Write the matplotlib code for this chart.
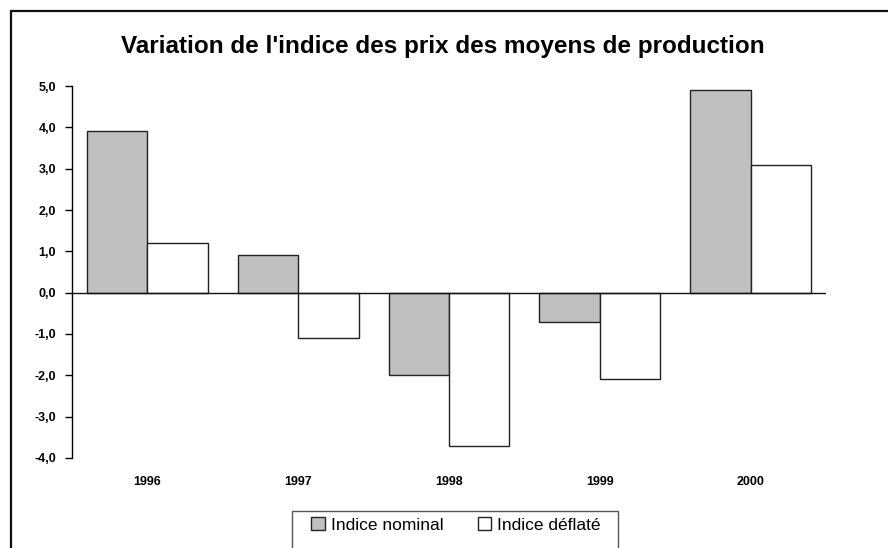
import numpy as np
import matplotlib
matplotlib.use("Agg")
import matplotlib.pyplot as plt
from matplotlib.patches import Patch, Rectangle
from matplotlib.ticker import FuncFormatter

# data
years = ["1996", "1997", "1998", "1999", "2000"]
nominal = [3.9, 0.9, -2.0, -0.7, 4.9]
deflated = [1.2, -1.1, -3.7, -2.1, 3.1]

plt.rcParams["font.family"] = ["Liberation Sans", "DejaVu Sans"]

W, H = 888, 548
fig = plt.figure(figsize=(W / 100, H / 100), dpi=100)

# outer frame (right and bottom edges fall outside the picture)
fig.patches.append(Rectangle((11 / W, -0.1), 1.2, 1 - 11 / H + 0.1,
                             transform=fig.transFigure, fill=False,
                             edgecolor="#111111", linewidth=1.6))

ax = fig.add_axes([72 / W, (H - 458) / H, (826 - 72) / W, (458 - 86) / H])

x = np.arange(len(years))
w = 0.4
ax.bar(x - w / 2, nominal, w, color="#c0c0c0", edgecolor="#222222", linewidth=1)
ax.bar(x + w / 2, deflated, w, color="white", edgecolor="#222222", linewidth=1)

ax.set_xlim(-0.5, len(years) - 0.5)
ax.set_ylim(-4, 5)
ax.set_yticks(np.arange(-4, 6, 1))
ax.yaxis.set_major_formatter(FuncFormatter(lambda v, p: f"{v:.1f}".replace(".", ",")))
ax.axhline(0, color="#111111", linewidth=1)

ax.set_xticks(x)
ax.set_xticklabels(years)
ax.tick_params(axis="x", length=0, pad=13)
ax.tick_params(axis="y", length=5, width=1, pad=6.5, direction="out")
for lbl in ax.get_xticklabels() + ax.get_yticklabels():
    lbl.set_fontsize(9)
    lbl.set_fontweight("bold")

for s in ["top", "right", "bottom"]:
    ax.spines[s].set_visible(False)
ax.spines["left"].set_linewidth(1)

fig.text(443 / W, 1 - 47 / H, "Variation de l'indice des prix des moyens de production",
         ha="center", va="center", fontsize=17.5, fontweight="bold")

# legend box, bottom edge cut off like the original
fig.patches.append(Rectangle((292 / W, -0.1), (618 - 292) / W, 0.1 + (H - 511) / H,
                             transform=fig.transFigure, fill=False,
                             edgecolor="#555555", linewidth=1))
handles = [Patch(facecolor="#c0c0c0", edgecolor="#222222", label="Indice nominal"),
           Patch(facecolor="white", edgecolor="#222222", label="Indice déflaté")]
fig.legend(handles=handles, loc="center", bbox_to_anchor=(456 / W, 1 - 525 / H),
           ncol=2, frameon=False, fontsize=12.5, handlelength=0.75, handleheight=0.75,
           handletextpad=0.35, columnspacing=2.0)

fig.savefig("out.png", dpi=100)
